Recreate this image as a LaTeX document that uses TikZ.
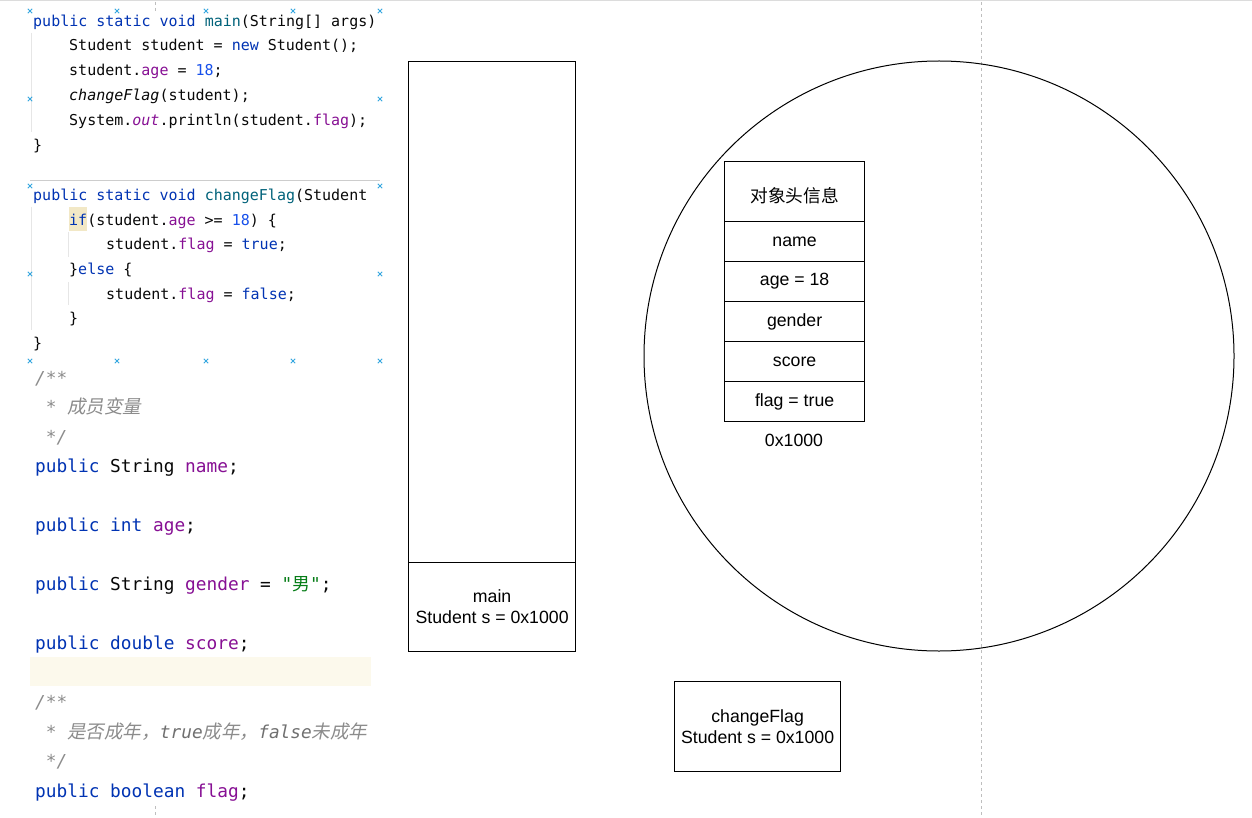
\documentclass[tikz,border=0pt]{standalone}
\usepackage{fontspec}
\setmainfont{Liberation Sans}
\newfontfamily\mono{DejaVu Sans Mono}
\newfontfamily\cjk{Noto Sans CJK SC}
\newfontfamily\cjkit{Noto Sans CJK SC}[FakeSlant=0.2,Scale=1.04]
\definecolor{kw}{HTML}{0033B3}
\definecolor{fn}{HTML}{00627A}
\definecolor{fld}{HTML}{871094}
\definecolor{num}{HTML}{1750EB}
\definecolor{strc}{HTML}{067D17}
\definecolor{cmt}{HTML}{8C8C8C}
\definecolor{txt}{HTML}{080808}
\definecolor{hl}{HTML}{FCF9EC}
\definecolor{ifbg}{HTML}{F2E8C6}
\definecolor{guide}{HTML}{E6E6E6}
\definecolor{mark}{HTML}{35A7E0}
\newcommand\K[1]{\textcolor{kw}{#1}}
\newcommand\F[1]{\textcolor{fn}{#1}}
\newcommand\V[1]{\textcolor{fld}{#1}}
\newcommand\N[1]{\textcolor{num}{#1}}
\newcommand\Sx[1]{\textcolor{strc}{#1}}
\begin{document}
\begin{tikzpicture}[x=1pt,y=-1pt,
  codeA/.style={anchor=base west,inner sep=0pt,text=txt,font=\mono\fontsize{15}{15}\selectfont},
  codeB/.style={anchor=base west,inner sep=0pt,text=txt,font=\mono\fontsize{17.8}{17.8}\selectfont},
  cmtline/.style={codeB,text=cmt,font=\mono\itshape\fontsize{17.8}{17.8}\selectfont},
  frame/.style={draw=black,line width=1.2pt,inner sep=0pt,anchor=north west,align=center,
     font=\fontsize{17.7}{21}\selectfont},
  cell/.style={frame,minimum width=140pt,minimum height=40pt},
  xmark/.style={draw=mark,line width=0.9pt}]
\useasboundingbox (0,0) rectangle (1252,818);
\fill[white] (0,0) rectangle (1252,818);
% page guides
\draw[color={rgb,255:red,220;green,220;blue,220},line width=1.5pt] (0,0.75) -- (1252,0.75);
\draw[color={rgb,255:red,190;green,190;blue,190},line width=0.8pt,dash pattern=on 3pt off 3pt] (981,2) -- (981,818);
\draw[color={rgb,255:red,190;green,190;blue,190},line width=0.8pt,dash pattern=on 3pt off 3pt] (155,2) -- (155,13);
\draw[color={rgb,255:red,190;green,190;blue,190},line width=0.8pt,dash pattern=on 3pt off 3pt] (155,806) -- (155,818);
% highlights
\fill[hl] (30,657) rectangle (371,686);
\fill[ifbg] (69,207) rectangle (87,231);
% indent guides
\draw[guide,line width=1pt] (31,33) -- (31,132);
\draw[guide,line width=1pt] (31,207) -- (31,330);
\draw[guide,line width=1pt] (68,232) -- (68,257);
\draw[guide,line width=1pt] (68,282) -- (68,305);
\draw[color={rgb,255:red,205;green,205;blue,205},line width=1pt] (30,181) -- (380,181);
% code block 1
\node[codeA] (a1) at (33,26.5) {\K{public static void} \F{main}(String[] args)};
\node[codeA] (a2) at (69,51) {Student student = \K{new} Student();};
\node[codeA] (a3) at (69,76) {student.\V{age} = \N{18};};
\node[codeA] (a4) at (69,101) {\textit{changeFlag}(student);};
\node[codeA] (a5) at (69,126) {System.\textit{\V{out}}.println(student.\V{flag});};
\node[codeA] (a6) at (33,150.5) {\}};
% code block 2
\node[codeA] (b1) at (33,201) {\K{public static void} \F{changeFlag}(Student};
\node[codeA] (b2) at (69,225.5) {\K{if}(student.\V{age} >= \N{18}) \{};
\node[codeA] (b3) at (106,250) {student.\V{flag} = \K{true};};
\node[codeA] (b4) at (69,274.5) {\}\K{else} \{};
\node[codeA] (b5) at (106,299) {student.\V{flag} = \K{false};};
\node[codeA] (b6) at (69,323.5) {\}};
\node[codeA] (b7) at (33,348) {\}};
% code block 3
\node[cmtline] (c1) at (35,384) {/**};
\node[cmtline] (c2) at (45.7,413.5) {* {\cjkit 成员变量}};
\node[cmtline] (c3) at (45.7,443) {*/};
\node[codeB] (c4) at (35,472.5) {\K{public} String \V{name};};
\node[codeB] (c5) at (35,531.5) {\K{public int} \V{age};};
\node[codeB] (c6) at (35,590.5) {\K{public} String \V{gender} = \Sx{"{\cjk 男}"};};
\node[codeB] (c7) at (35,649.5) {\K{public double} \V{score};};
\node[cmtline] (c8) at (35,708.5) {/**};
\node[cmtline] (c9) at (45.7,738) {* {\cjkit 是否成年，}\textcolor{cmt!80!black}{true}{\cjkit 成年，}\textcolor{cmt!80!black}{false}{\cjkit 未成年}};
\node[cmtline] (c10) at (45.7,767.5) {*/};
\node[codeB] (c11) at (35,797) {\K{public boolean} \V{flag};};
% selection markers
\foreach \mx/\my in {30/11,117/11,206/11,293/11,380/11,30/99,380/99,30/186,380/186,30/274,380/274,30/361,117/361,206/361,293/361,380/361}{
  \draw[xmark] (\mx-2.2,\my-2.2) -- (\mx+2.2,\my+2.2) (\mx-2.2,\my+2.2) -- (\mx+2.2,\my-2.2);
}
% heap circle
\node[draw=black,line width=1pt,circle,minimum size=590pt,inner sep=0pt] (heap) at (939,356) {};
% stack
\node[frame,minimum width=167pt,minimum height=501pt] (stack) at (408,61) {};
\node[frame,minimum width=167pt,minimum height=89pt] (mainf) at (408,562) {main\\Student s = 0x1000};
\node[frame,minimum width=166pt,minimum height=90pt] (cff) at (674,681) {changeFlag\\Student s = 0x1000};
% object
\node[cell,minimum height=60pt] (hdr) at (724,161) {};
\node[inner sep=0pt,font=\cjk\fontsize{17.7}{21}\selectfont] (hdrtxt) at ([yshift=-4pt]hdr.center) {对象头信息};
\node[cell] (nm) at (724,221) {name};
\node[cell] (ag) at (724,261) {age = 18};
\node[cell] (gd) at (724,301) {gender};
\node[cell] (sc) at (724,341) {score};
\node[cell] (fl) at (724,381) {flag = true};
\node[inner sep=0pt,font=\fontsize{17.7}{21}\selectfont,anchor=center] (addr) at (794,440) {0x1000};
\end{tikzpicture}
\end{document}
